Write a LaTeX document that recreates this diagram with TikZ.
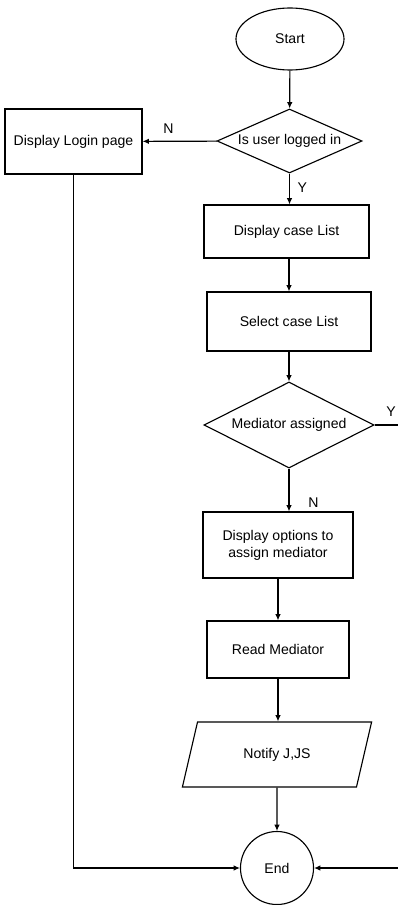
\documentclass[tikz,border=0pt]{standalone}
\usepackage{fontspec}
\setmainfont{Liberation Sans}
\usepackage{tikz}
\usepackage{xcolor}
\usetikzlibrary{calc}
\usetikzlibrary{arrows.meta}
\usetikzlibrary{shapes.geometric}

\begin{document}
\begin{tikzpicture}[x=0.025cm, y=-0.025cm]

\tikzset{
    box/.style = {
    draw, line width=0.8pt, inner sep=0pt, align=center
    }
}

\tikzstyle{terminal}=[box, ellipse]
\tikzstyle{decision}=[box, diamond]
\tikzstyle{process}=[box, rectangle]
\tikzstyle{io}=[box, trapezium, trapezium left angle=64, trapezium right angle=116, trapezium stretches=true]
\tikzstyle{flow}=[line width=0.8pt, -{Latex[length=1.6mm,width=1.4mm]}]

\useasboundingbox (0,0) rectangle (398,905);

\node (start) [terminal, minimum width=2.7cm, minimum height=1.55cm] at (290,39) {Start};
\node (logged) [decision, aspect=2.27, minimum width=3.625cm, minimum height=1.6cm] at (289.5,141) {Is user logged in};
\node (login) [process, minimum width=3.425cm, minimum height=1.625cm] at (73.5,141.5) {Display Login page};
\node (list) [process, minimum width=4.125cm, minimum height=1.325cm] at (286.5,231.5) {Display case List};
\node (select) [process, minimum width=4.1cm, minimum height=1.475cm] at (289,321.5) {Select case List};
\node (assigned) [decision, aspect=1.98, minimum width=4.25cm, minimum height=2.15cm] at (289,425) {Mediator assigned};
\node (options) [process, minimum width=3.75cm, minimum height=1.65cm] at (278,545) {Display options to\\assign mediator};
\node (read) [process, minimum width=3.55cm, minimum height=1.425cm] at (278,649.5) {Read Mediator};
\node (notify) [io, minimum width=4.75cm, minimum height=1.625cm] at (277,754.5) {Notify J,JS};
\node (end) [terminal, circle, minimum size=1.825cm] at (277,868) {End};

\coordinate (yout) at (398,425);
\coordinate (yin) at (398,868);

\draw[flow] (start) -- (logged);
\draw[flow] (logged) -- node[above, pos=0.65, yshift=2pt] {N} (login);
\draw[flow] (logged.south) -- node[right, pos=0.45, xshift=2pt] {Y} (logged.south |- list.north);
\draw[flow] (list.south -| select.north) -- (select.north);
\draw[flow] (select) -- (assigned);
\draw[line width=0.8pt] (assigned.east) -- node[above, pos=0.7, yshift=2pt] {Y} (yout);
\draw[flow] (assigned.south) -- node[right, pos=0.8, xshift=10pt] {N} (assigned.south |- options.north);
\draw[flow] (options) -- (read);
\draw[flow] (read.south) -- (read.south |- notify.north);
\draw[flow] (notify) -- (end);
\draw[flow] (login.south) |- (end.west);
\draw[flow] (yin) -- (end.east);

\end{tikzpicture}
\end{document}
